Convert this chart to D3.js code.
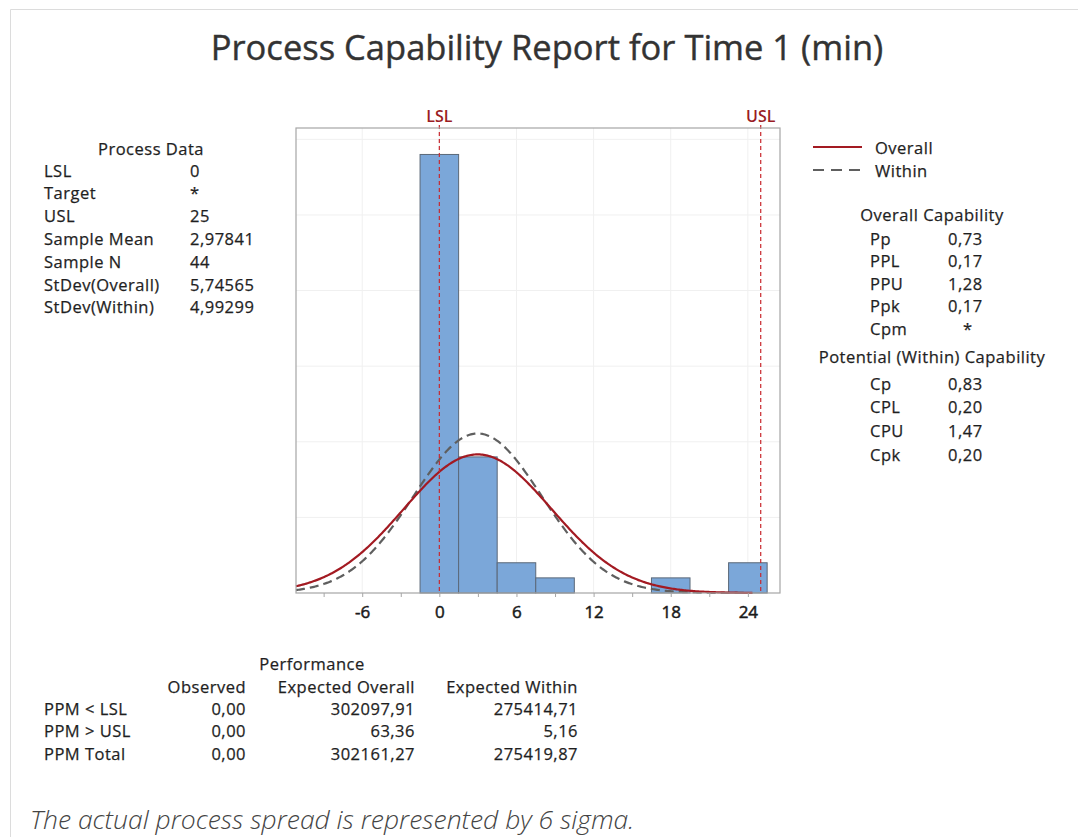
<!DOCTYPE html>
<html>
<head>
<meta charset="utf-8">
<script src="https://cdn.jsdelivr.net/npm/d3@7"></script>
<style>
  body { margin: 0; background: #fff; }
  svg text { font-family: "Open Sans", "Noto Sans", sans-serif; fill: #1f1f1f; }
  .tbl text { stroke: #1f1f1f; stroke-width: 0.25px; }
</style>
</head>
<body>
<svg width="1078" height="837"></svg>
<script>
const width = 1078;
const height = 837;

// histogram (bin width 3)
const binCenters = [0, 3, 6, 9, 12, 15, 18, 21, 24];
const counts = [29, 9, 2, 1, 0, 0, 1, 0, 2];
const binWidth = 3;
const xTicks = [-6, 0, 6, 12, 18, 24];
const yGrid = [5, 10, 15, 20, 25, 30];

const lsl = 0;
const usl = 25;
const sampleMean = 2.97841;
const sampleN = 44;
const sdOverall = 5.74565;
const sdWithin = 4.99299;

const processLabels = ["LSL", "Target", "USL", "Sample Mean", "Sample N", "StDev(Overall)", "StDev(Within)"];
const processValues = ["0", "*", "25", "2,97841", "44", "5,74565", "4,99299"];

const overallLabels = ["Pp", "PPL", "PPU", "Ppk", "Cpm"];
const overallValues = ["0,73", "0,17", "1,28", "0,17", "*"];
const withinLabels = ["Cp", "CPL", "CPU", "Cpk"];
const withinValues = ["0,83", "0,20", "1,47", "0,20"];

const perfCols = ["Observed", "Expected Overall", "Expected Within"];
const perfRows = ["PPM < LSL", "PPM > USL", "PPM Total"];
const perfObserved = ["0,00", "0,00", "0,00"];
const perfOverall = ["302097,91", "63,36", "302161,27"];
const perfWithin = ["275414,71", "5,16", "275419,87"];

const plot = { left: 296, right: 780, top: 128, bottom: 593 };
const fs = 16.5;
const ls = "0.5px";

const svg = d3.select("svg");

// outer panel border
svg.append("path")
  .attr("d", `M10.5,${height} V9.5 H${width}`)
  .attr("fill", "none").attr("stroke", "#dcdcdc");

svg.append("text")
  .attr("x", 547).attr("y", 60)
  .attr("text-anchor", "middle")
  .attr("font-size", 34.5)
  .style("fill", "#333").style("stroke", "#333").style("stroke-width", "0.4px")
  .text("Process Capability Report for Time 1 (min)");

const x = d3.scaleLinear().domain([-11.15, 26.5]).range([plot.left, plot.right]);
const y = d3.scaleLinear().domain([0, 30.75]).range([plot.bottom, plot.top]);

// grid
svg.append("g").selectAll("line").data(yGrid).join("line")
  .attr("x1", plot.left).attr("x2", plot.right)
  .attr("y1", d => y(d)).attr("y2", d => y(d))
  .attr("stroke", "#f0f0f0");
svg.append("g").selectAll("line").data(xTicks).join("line")
  .attr("x1", d => x(d)).attr("x2", d => x(d))
  .attr("y1", plot.top).attr("y2", plot.bottom)
  .attr("stroke", "#f0f0f0");

// bars
svg.append("g").selectAll("rect").data(binCenters).join("rect")
  .attr("x", d => x(d - binWidth / 2))
  .attr("width", d => x(d + binWidth / 2) - x(d - binWidth / 2))
  .attr("y", (d, i) => y(counts[i]))
  .attr("height", (d, i) => y(0) - y(counts[i]))
  .attr("fill", "#7ba7d9")
  .attr("stroke", "#5b6878")
  .attr("stroke-width", 1)
  .style("display", (d, i) => counts[i] ? null : "none");

// fitted normal curves
const pdf = (v, m, s) => Math.exp(-0.5 * ((v - m) / s) ** 2) / (s * Math.sqrt(2 * Math.PI));
const xs = d3.range(-11.15, 24.4, 0.1);
const curve = s => d3.line()
  .x(v => x(v))
  .y(v => y(sampleN * binWidth * pdf(v, sampleMean, s)))(xs);

svg.append("path").attr("d", curve(sdWithin))
  .attr("fill", "none").attr("stroke", "#5f5f5f")
  .attr("stroke-width", 2.2).attr("stroke-dasharray", "9,5");
svg.append("path").attr("d", curve(sdOverall))
  .attr("fill", "none").attr("stroke", "#a31a22")
  .attr("stroke-width", 2.2);

// spec limits
[[lsl, "LSL"], [usl, "USL"]].forEach(([v, name]) => {
  svg.append("line")
    .attr("x1", x(v)).attr("x2", x(v))
    .attr("y1", plot.top - 3).attr("y2", plot.bottom)
    .attr("stroke", "#c8282e").attr("stroke-width", 1.2)
    .attr("stroke-dasharray", "4,3");
  svg.append("text")
    .attr("x", x(v)).attr("y", 122)
    .attr("text-anchor", "middle").attr("font-size", 16).attr("font-weight", 600)
    .style("fill", "#9a1c24")
    .text(name);
});

// frame
svg.append("rect")
  .attr("x", plot.left).attr("y", plot.top)
  .attr("width", plot.right - plot.left).attr("height", plot.bottom - plot.top)
  .attr("fill", "none").attr("stroke", "#a6a6a6").attr("stroke-width", 1.2);

// x axis
const xAxis = d3.axisBottom(x).tickValues(d3.range(-9, 25, 3)).tickSize(4)
  .tickFormat(d => xTicks.includes(d) ? d : "");
const gx = svg.append("g").attr("transform", `translate(0,${plot.bottom})`).call(xAxis);
gx.select(".domain").remove();
gx.selectAll(".tick line").attr("stroke", "#a6a6a6");
gx.selectAll(".tick text")
  .attr("font-size", 17).attr("dy", "1.05em")
  .style("font-family", "'Open Sans', sans-serif").style("fill", "#1a1a1a")
  .style("stroke", "#1a1a1a").style("stroke-width", "0.5px");

// process data table
const pd = svg.append("g").attr("class", "tbl").attr("font-size", fs).style("letter-spacing", ls);
pd.append("text").attr("x", 151).attr("y", 148).attr("text-anchor", "middle")
  .attr("dominant-baseline", "central").text("Process Data");
processLabels.forEach((t, i) => {
  pd.append("text").attr("x", 44).attr("y", 170 + i * 22.8).attr("dominant-baseline", "central").text(t);
  pd.append("text").attr("x", 190).attr("y", 170 + i * 22.8).attr("dominant-baseline", "central").text(processValues[i]);
});

// legend
const lg = svg.append("g").attr("class", "tbl").attr("font-size", fs).style("letter-spacing", ls);
lg.append("line").attr("x1", 813).attr("x2", 862).attr("y1", 147).attr("y2", 147)
  .attr("stroke", "#a31a22").attr("stroke-width", 2.2);
lg.append("line").attr("x1", 813).attr("x2", 862).attr("y1", 170).attr("y2", 170)
  .attr("stroke", "#5f5f5f").attr("stroke-width", 2.2).attr("stroke-dasharray", "11,7");
lg.append("text").attr("x", 875).attr("y", 147).attr("dominant-baseline", "central").text("Overall");
lg.append("text").attr("x", 875).attr("y", 170).attr("dominant-baseline", "central").text("Within");

// capability tables
const cap = svg.append("g").attr("class", "tbl").attr("font-size", fs).style("letter-spacing", ls);
cap.append("text").attr("x", 932).attr("y", 214).attr("text-anchor", "middle")
  .attr("dominant-baseline", "central").text("Overall Capability");
overallLabels.forEach((t, i) => {
  const yy = 238 + i * 22.6;
  cap.append("text").attr("x", 870).attr("y", yy).attr("dominant-baseline", "central").text(t);
  cap.append("text").attr("x", overallValues[i] === "*" ? 963 : 948).attr("y", yy)
    .attr("dominant-baseline", "central").text(overallValues[i]);
});
cap.append("text").attr("x", 932).attr("y", 356).attr("text-anchor", "middle")
  .attr("dominant-baseline", "central").text("Potential (Within) Capability");
withinLabels.forEach((t, i) => {
  const yy = 383 + i * 23.8;
  cap.append("text").attr("x", 870).attr("y", yy).attr("dominant-baseline", "central").text(t);
  cap.append("text").attr("x", 948).attr("y", yy).attr("dominant-baseline", "central").text(withinValues[i]);
});

// performance table
const pf = svg.append("g").attr("class", "tbl").attr("font-size", fs).style("letter-spacing", ls);
pf.append("text").attr("x", 312).attr("y", 663).attr("text-anchor", "middle")
  .attr("dominant-baseline", "central").text("Performance");
const colRight = [246, 415, 578];
perfCols.forEach((t, i) => {
  pf.append("text").attr("x", colRight[i]).attr("y", 686).attr("text-anchor", "end")
    .attr("dominant-baseline", "central").text(t);
});
perfRows.forEach((t, i) => {
  const yy = 708 + i * 22.6;
  pf.append("text").attr("x", 44).attr("y", yy).attr("dominant-baseline", "central").text(t);
  [perfObserved, perfOverall, perfWithin].forEach((col, j) => {
    pf.append("text").attr("x", colRight[j]).attr("y", yy).attr("text-anchor", "end")
      .attr("dominant-baseline", "central").text(col[i]);
  });
});

svg.append("text")
  .attr("x", 30).attr("y", 829)
  .attr("font-size", 26.5).attr("font-style", "italic").attr("font-weight", 300)
  .style("fill", "#444")
  .text("The actual process spread is represented by 6 sigma.");
</script>
</body>
</html>
